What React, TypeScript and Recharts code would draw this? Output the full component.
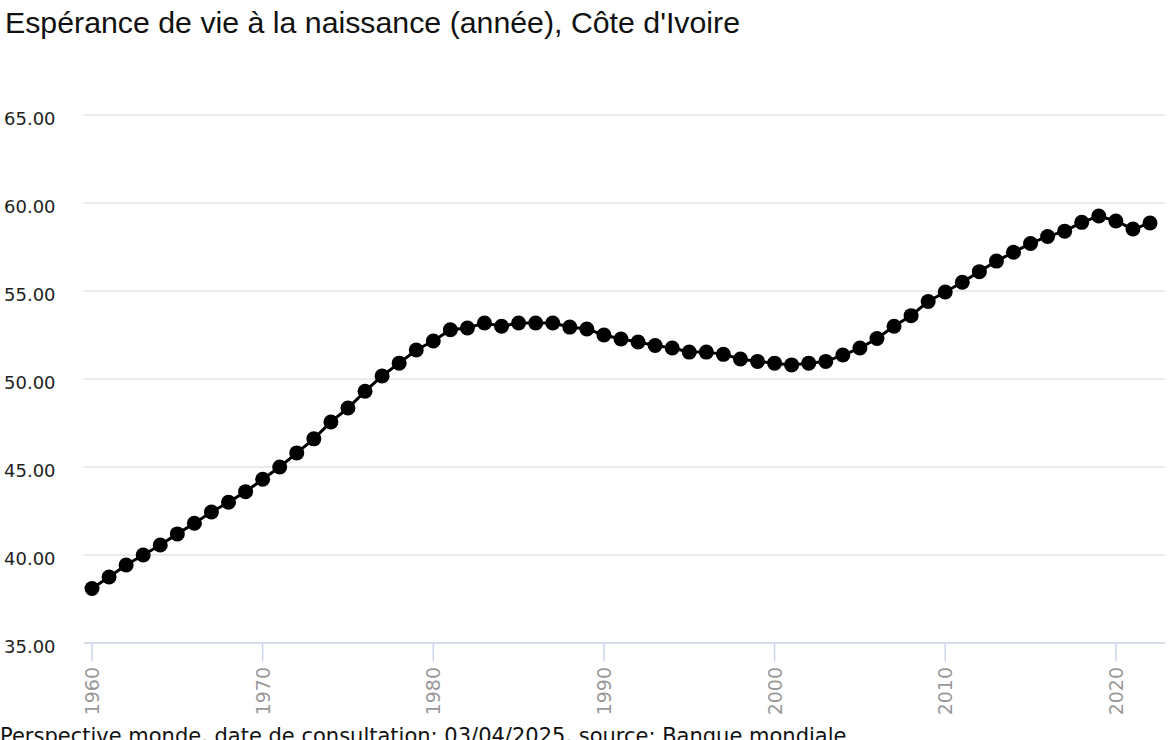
import React from "react";
import { LineChart, Line, XAxis, YAxis, CartesianGrid } from "recharts";

const years: number[] = [
  1960, 1961, 1962, 1963, 1964, 1965, 1966, 1967, 1968, 1969,
  1970, 1971, 1972, 1973, 1974, 1975, 1976, 1977, 1978, 1979,
  1980, 1981, 1982, 1983, 1984, 1985, 1986, 1987, 1988, 1989,
  1990, 1991, 1992, 1993, 1994, 1995, 1996, 1997, 1998, 1999,
  2000, 2001, 2002, 2003, 2004, 2005, 2006, 2007, 2008, 2009,
  2010, 2011, 2012, 2013, 2014, 2015, 2016, 2017, 2018, 2019,
  2020, 2021, 2022,
];

const lifeExpectancy: number[] = [
  38.1, 38.75, 39.43, 40.0, 40.57, 41.2, 41.8, 42.44, 43.0, 43.6,
  44.3, 45.0, 45.8, 46.6, 47.56, 48.35, 49.3, 50.17, 50.9, 51.65,
  52.16, 52.8, 52.9, 53.18, 53.0, 53.18, 53.18, 53.18, 52.95, 52.84,
  52.5, 52.27, 52.1, 51.9, 51.76, 51.53, 51.53, 51.4, 51.14, 51.0,
  50.9, 50.8, 50.9, 51.0, 51.36, 51.76, 52.3, 53.0, 53.6, 54.4,
  54.94, 55.5, 56.1, 56.7, 57.2, 57.7, 58.1, 58.4, 58.9, 59.26,
  58.98, 58.52, 58.86,
];

const yTicks: number[] = [35, 40, 45, 50, 55, 60, 65];
const xTicks: number[] = [1960, 1970, 1980, 1990, 2000, 2010, 2020];

const title = "Espérance de vie à la naissance (année), Côte d'Ivoire";
const footer =
  "Perspective monde, date de consultation: 03/04/2025, source: Banque mondiale";

const data = years.map((y, i) => ({ year: y, value: lifeExpectancy[i] }));

const TICK_FONT = "'DejaVu Sans', Verdana, sans-serif";

const YTick = (props: any) => {
  const { y, payload } = props;
  return (
    <text
      x={4}
      y={y}
      dy={10}
      textAnchor="start"
      fill="#222222"
      fontSize={18}
      fontFamily={TICK_FONT}
    >
      {payload.value.toFixed(2)}
    </text>
  );
};

const XTick = (props: any) => {
  const { x, payload } = props;
  return (
    <g transform={`translate(${x},667)`}>
      <text
        transform="rotate(-90)"
        x={0}
        y={0}
        dy={7}
        textAnchor="end"
        fill="#999999"
        fontSize={19}
        fontFamily={TICK_FONT}
      >
        {payload.value}
      </text>
    </g>
  );
};

export default function App() {
  return (
    <div
      style={{
        position: "absolute",
        left: 0,
        top: 0,
        width: 1170,
        height: 740,
        background: "#ffffff",
        overflow: "hidden",
      }}
    >
      <div
        style={{
          position: "absolute",
          left: 5,
          top: 6,
          fontFamily: "'Liberation Sans', Arial, sans-serif",
          fontSize: 30.3,
          color: "#111111",
          whiteSpace: "nowrap",
        }}
      >
        {title}
      </div>
      <div style={{ position: "absolute", left: 0, top: 0 }}>
        <LineChart
          width={1170}
          height={720}
          data={data}
          margin={{ top: 115, right: 5, left: 0, bottom: 0 }}
        >
          <CartesianGrid vertical={false} stroke="#e6e6e6" strokeWidth={1.5} />
          <XAxis
            dataKey="year"
            type="number"
            domain={[1960, 2022]}
            ticks={xTicks}
            padding={{ left: 8, right: 15 }}
            height={77}
            axisLine={{ stroke: "#ccd6eb", strokeWidth: 1.5 }}
            tickLine={{ stroke: "#ccd6eb", strokeWidth: 1.5 }}
            tickSize={18}
            tick={<XTick />}
            interval={0}
          />
          <YAxis
            type="number"
            domain={[35, 65]}
            ticks={yTicks}
            width={84}
            axisLine={false}
            tickLine={false}
            tick={<YTick />}
            interval={0}
          />
          <Line
            type="linear"
            dataKey="value"
            stroke="#000000"
            strokeWidth={3}
            dot={{ r: 7.5, fill: "#000000", stroke: "#000000", strokeWidth: 0 }}
            activeDot={false}
            isAnimationActive={false}
          />
        </LineChart>
      </div>
      <div
        style={{
          position: "absolute",
          left: 0,
          top: 724,
          fontFamily: TICK_FONT,
          fontSize: 21,
          color: "#111111",
          whiteSpace: "nowrap",
        }}
      >
        {footer}
      </div>
    </div>
  );
}
